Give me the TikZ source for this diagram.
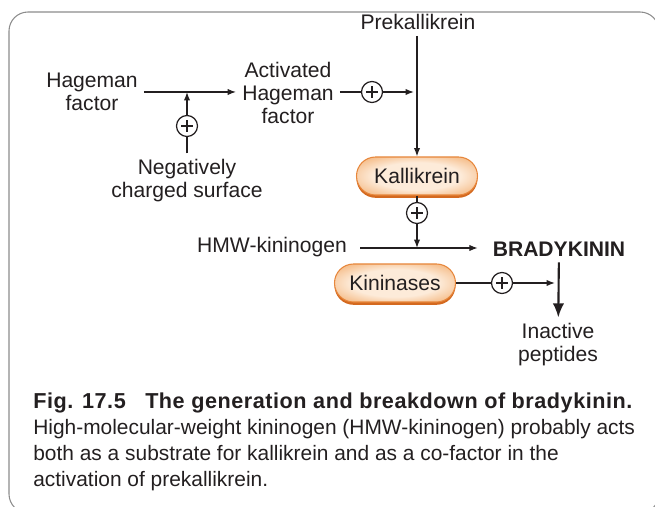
\documentclass[tikz,border=0pt]{standalone}
\usepackage{fontspec}
\setmainfont{Liberation Sans}
\usepackage{tikz}
\usetikzlibrary{arrows.meta, positioning, calc, shadows}
\usepackage{xcolor}
\definecolor{Ink}{HTML}{231F20}
\definecolor{FrameGray}{HTML}{8C8C8C}
\definecolor{PillLight}{HTML}{FDEBD9}
\definecolor{PillMid}{HTML}{F5BC88}
\definecolor{PillOrange}{HTML}{E7873C}
\definecolor{PillDark}{HTML}{D4691F}

\pgfdeclareradialshading{pillglow}{\pgfpoint{0bp}{0bp}}{%
  color(0bp)=(PillLight); color(18bp)=(PillLight); color(31bp)=(PillMid);
  color(41bp)=(PillOrange); color(60bp)=(PillOrange)}

\tikzset{
  lbl/.style={align=center, text=Ink, font=\fontsize{12}{13.1}\selectfont},
  pill/.style={lbl, rectangle, rounded corners=0.38cm, minimum width=2.42cm,
    minimum height=0.76cm, inner sep=0pt, draw=PillOrange, line width=0.6pt,
    shading=pillglow,
    drop shadow={shadow xshift=0pt, shadow yshift=-1.6pt, fill=PillDark, opacity=1}},
  plus/.style={circle, draw=Ink, line width=0.7pt, minimum size=0.42cm, inner sep=0pt,
    path picture={
      \draw[Ink, line width=0.8pt]
        ($(path picture bounding box.center)+(-0.12,0)$) -- +(0.24,0)
        ($(path picture bounding box.center)+(0,-0.12)$) -- +(0,0.24);}},
  link/.style={Ink, line width=0.7pt},
  flow/.style={link, -{Latex[length=4.8pt,width=3.6pt]}}
}

\begin{document}
\begin{tikzpicture}[font=\fontsize{12}{13.1}\selectfont]
  \useasboundingbox (0,0) rectangle (13.1,-10.14);
  % Frame
  \draw[FrameGray, line width=0.6pt, rounded corners=0.38cm] (0.18,-0.24) rectangle (13.18,-10.26);

  % Contact activation
  \node[lbl] (hageman) at (1.84,-1.84) {Hageman\\factor};
  \node[lbl] (actHag) at (5.76,-1.86) {Activated\\Hageman\\factor};
  \node[lbl] (negSurf) at (3.74,-3.62) {Negatively\\charged surface};
  \node[plus] (pSurf) at (3.74,-2.52) {};
  \draw[flow] (hageman.east |- 0,-1.84) -- (actHag.west |- 0,-1.84);
  \draw[link] (negSurf) -- (pSurf);
  \draw[flow] (pSurf) -- (pSurf |- 0,-1.84);

  % Prekallikrein to kallikrein
  \node[lbl] (prekal) at (8.36,-0.44) {Prekallikrein};
  \node[pill] (kallik) at (8.34,-3.52) {Kallikrein};
  \node[plus] (pAct) at (7.44,-1.84) {};
  \draw[link] (actHag.east |- pAct) -- (pAct);
  \draw[flow] (pAct) -- ($(pAct -| kallik)+(-0.06,0)$);
  \draw[flow] (prekal.south -| kallik) -- (kallik);

  % Kinin generation
  \node[lbl] (hmw) at (5.44,-4.94) {HMW-kininogen};
  \node[lbl, font=\fontsize{12}{13.1}\selectfont\bfseries] (brady) at (11.18,-4.98) {BRADYKININ};
  \node[plus] (pKal) at (8.34,-4.26) {};
  \draw[link] (kallik) -- (pKal);
  \draw[flow, shorten <=4pt, shorten >=5pt] (hmw.east |- 0,-4.96) -- (brady.west |- 0,-4.96);
  \draw[flow] (pKal) -- (pKal |- 0,-4.96);

  % Breakdown
  \node[pill] (kinin) at (7.9,-5.66) {Kininases};
  \node[lbl] (inactive) at (11.16,-6.9) {Inactive\\peptides};
  \node[plus] (pKin) at (10.04,-5.66) {};
  \draw[link] (kinin) -- (pKin);
  \draw[flow] (pKin) -- ($(pKin -| brady)+(-0.08,0)$);
  \draw[Ink, line width=1.2pt, -{Latex[length=8pt,width=6.5pt]}] (brady) -- (inactive);

  % Caption
  \node[anchor=north west, align=left, text=Ink, inner sep=0pt,
    font=\fontsize{11.9}{14.8}\selectfont] (caption) at (0.66,-7.84)
    {{\fontsize{12.3}{14.8}\selectfont\bfseries\addfontfeatures{LetterSpace=2.5}Fig. 17.5\hspace{0.9em}The generation and breakdown of bradykinin.}\\
     High-molecular-weight kininogen (HMW-kininogen) probably acts\\
     both as a substrate for kallikrein and as a co-factor in the\\
     activation of prekallikrein.};
\end{tikzpicture}
\end{document}
